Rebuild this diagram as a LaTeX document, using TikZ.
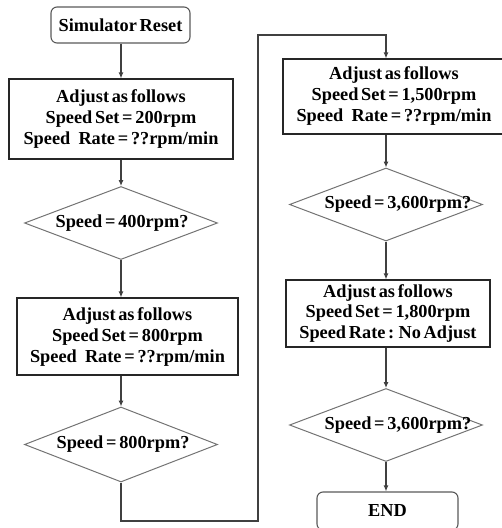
\documentclass[tikz,border=0pt]{standalone}
\usepackage{fontspec}
\setmainfont{Liberation Serif}[WordSpace=0.6]
\usetikzlibrary{shapes.geometric,arrows.meta}
\tikzset{
  x=1pt, y=-1pt,
  txt/.style={font=\bfseries\fontsize{18.3}{21}\selectfont, text=black},
  termbox/.style={txt, draw=black!65, line width=1.1pt, rounded corners=6pt, inner sep=0pt, align=center},
  procbox/.style={txt, draw=black!85, line width=1.1pt, inner sep=0pt, align=center},
  decbox/.style={shape=diamond, draw=black!55, line width=1pt, inner sep=0pt, minimum width=193pt, minimum height=73pt},
  dlabel/.style={txt, inner sep=0pt},
  conn/.style={draw=black!75, line width=1.1pt},
  arr/.style={conn, -{Latex[length=6pt,width=5pt]}}
}
\begin{document}
\begin{tikzpicture}
\useasboundingbox (0,0) rectangle (502,528);
\clip (0,0) rectangle (502,528);
% left column
\node[termbox, minimum width=139pt, minimum height=36pt] (reset) at (120.5,25) {Simulator Reset};
\node[procbox, minimum width=224pt, minimum height=80pt] (b1) at (121,119)
  {Adjust as follows\\Speed Set = 200rpm\\Speed\ \ \ Rate = ??rpm/min};
\node[decbox, label={[dlabel, xshift=1pt]center:Speed = 400rpm?}] (d1) at (121,223) {};
\node[procbox, minimum width=221pt, minimum height=77pt] (b2) at (127.5,336.5)
  {Adjust as follows\\Speed Set = 800rpm\\Speed\ \ \ Rate = ??rpm/min};
\node[decbox, minimum height=75pt, label={[dlabel, xshift=2pt]center:Speed = 800rpm?}] (d2) at (121,444.5) {};
% right column
\node[procbox, minimum width=222pt, minimum height=75pt] (b3) at (394,96.5)
  {Adjust as follows\\Speed Set = 1,500rpm\\Speed\ \ \ Rate = ??rpm/min};
\node[decbox, label={[dlabel, xshift=12pt]center:Speed = 3,600rpm?}] (d3) at (386,204.5) {};
\node[procbox, minimum width=204pt, minimum height=67pt] (b4) at (388,313.5)
  {Adjust as follows\\Speed Set = 1,800rpm\\Speed Rate : No Adjust};
\node[decbox, label={[dlabel, xshift=12pt]center:Speed = 3,600rpm?}] (d4) at (386,425) {};
\node[termbox, minimum width=141pt, minimum height=38pt] (end) at (387.5,511) {END};
% loop coordinates
\coordinate (loopA) at (258,521);
\coordinate (loopB) at (258,35);
% connectors
\draw[arr] (reset.south -| b1.north) -- (b1.north);
\draw[arr] (b1.south) -- (d1.north);
\draw[arr] (d1.south) -- (d1.south |- b2.north);
\draw[arr] (d2.south |- b2.south) -- (d2.north);
\draw[arr] (d2.south) |- (loopA) -- (loopB) -| (d3.north |- b3.north);
\draw[arr] (d3.north |- b3.south) -- (d3.north);
\draw[arr] (d3.south) -- (d3.south |- b4.north);
\draw[arr] (d4.north |- b4.south) -- (d4.north);
\draw[arr] (d4.south) -- (d4.south |- end.north);
\end{tikzpicture}
\end{document}
